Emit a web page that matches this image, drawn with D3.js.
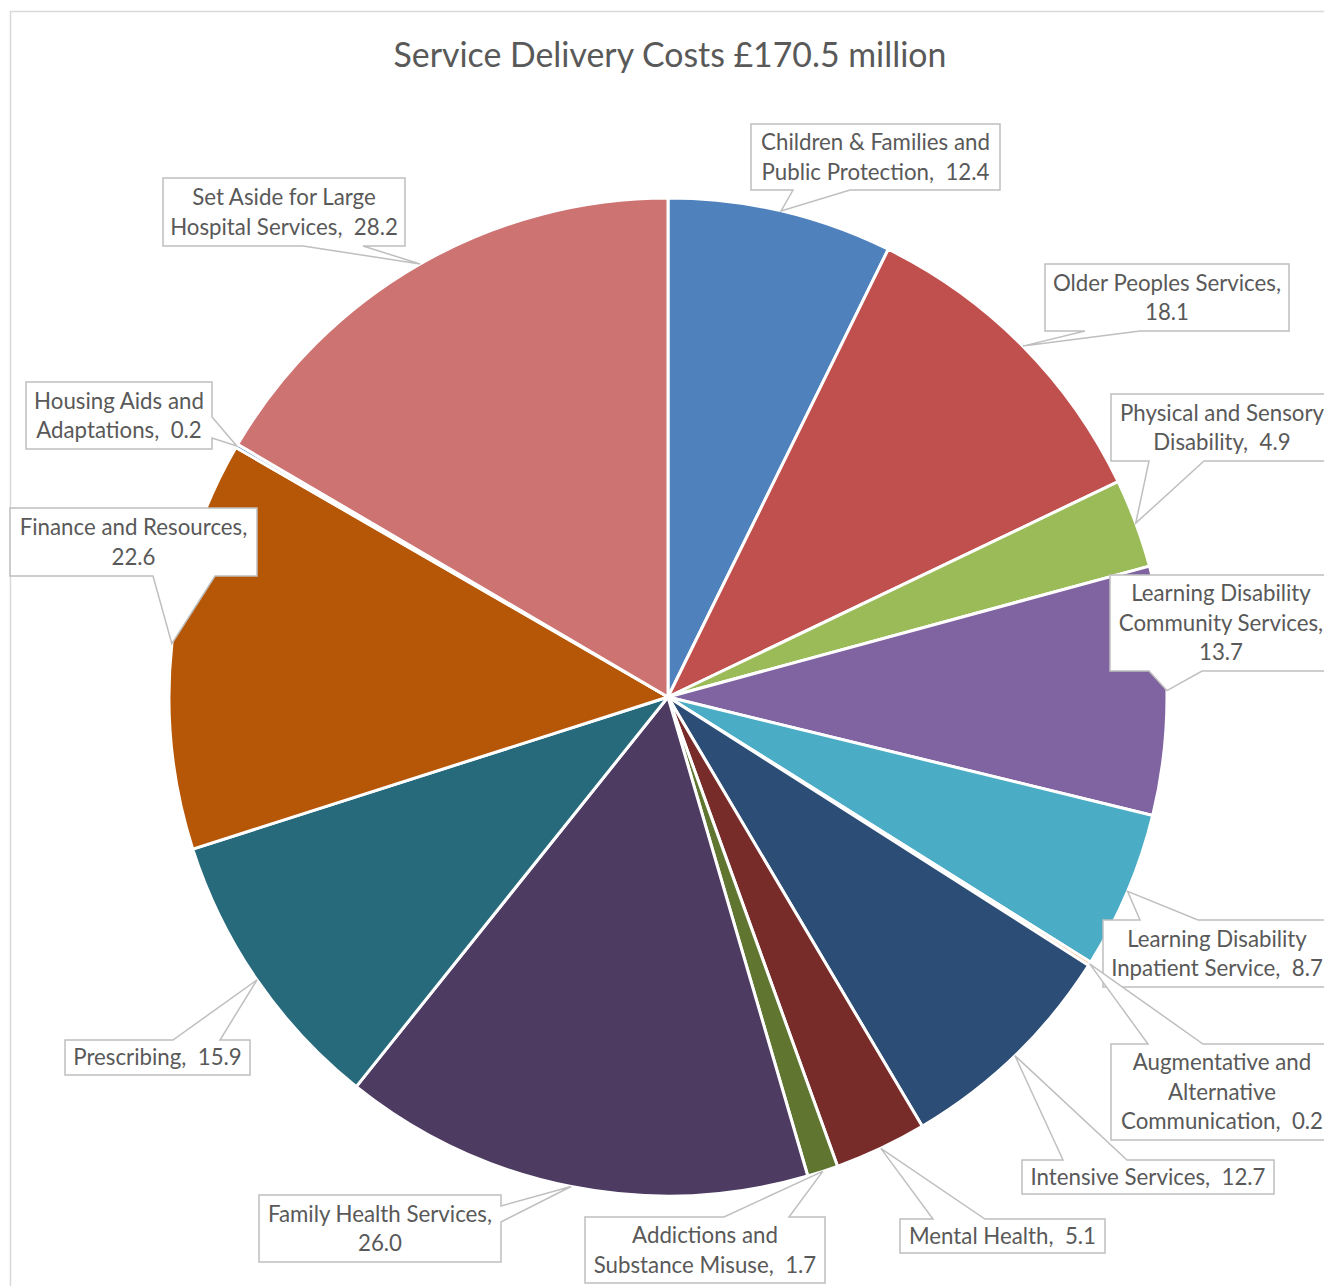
<!DOCTYPE html>
<html>
<head>
<meta charset="utf-8">
<script src="https://cdn.jsdelivr.net/npm/d3@7"></script>
<style>
  html, body { margin: 0; padding: 0; background: #fff; }
  svg { display: block; }
</style>
</head>
<body>
<svg id="chart" width="1324" height="1286"></svg>
<script>
// ---------- data ----------
const categories = [
  "Children & Families and Public Protection",
  "Older Peoples Services",
  "Physical and Sensory Disability",
  "Learning Disability Community Services",
  "Learning Disability Inpatient Service",
  "Augmentative and Alternative Communication",
  "Intensive Services",
  "Mental Health",
  "Addictions and Substance Misuse",
  "Family Health Services",
  "Prescribing",
  "Finance and Resources",
  "Housing Aids and Adaptations",
  "Set Aside for Large Hospital Services"
];
const values = [12.4, 18.1, 4.9, 13.7, 8.7, 0.2, 12.7, 5.1, 1.7, 26.0, 15.9, 22.6, 0.2, 28.2];
const labelLines = [
  ["Children & Families and", "Public Protection,  12.4"],
  ["Older Peoples Services,", "18.1"],
  ["Physical and Sensory", "Disability,  4.9"],
  ["Learning Disability", "Community Services,", "13.7"],
  ["Learning Disability", "Inpatient Service,  8.7"],
  ["Augmentative and", "Alternative", "Communication,  0.2"],
  ["Intensive Services,  12.7"],
  ["Mental Health,  5.1"],
  ["Addictions and", "Substance Misuse,  1.7"],
  ["Family Health Services,", "26.0"],
  ["Prescribing,  15.9"],
  ["Finance and Resources,", "22.6"],
  ["Housing Aids and", "Adaptations,  0.2"],
  ["Set Aside for Large", "Hospital Services,  28.2"]
];
const titleText = "Service Delivery Costs £170.5 million";

// ---------- styles / layout ----------
const colors = ["#4F81BD", "#C0504D", "#9BBB59", "#8064A2", "#4BACC6", "#F79646",
                "#2C4D75", "#772C2A", "#5F7530", "#4D3B62", "#276A7C", "#B65708",
                "#729ACA", "#CD7371"];
// callout boxes: [x, y, w, h], wedge side, wedge base along that side
const callouts = [
  {box: [751, 124, 249, 66],  side: "b", base: [793, 850]},
  {box: [1045, 264, 244, 67], side: "b", base: [1085, 1140]},
  {box: [1111, 394, 222, 67], side: "b", base: [1149, 1204]},
  {box: [1110, 575, 222, 96], side: "b", base: [1149, 1202]},
  {box: [1103, 920, 228, 67], side: "t", base: [1140, 1198]},
  {box: [1111, 1044, 222, 96], side: "t", base: [1148, 1203]},
  {box: [1022, 1160, 252, 34], side: "t", base: [1063, 1127]},
  {box: [900, 1219, 205, 34], side: "t", base: [933, 985]},
  {box: [585, 1217, 240, 66], side: "t", base: [724, 789]},
  {box: [259, 1195, 242, 67], side: "r", base: [1206, 1222]},
  {box: [65, 1040, 185, 35], side: "t", base: [173, 220]},
  {box: [10, 508, 247, 68], side: "b", base: [153, 215]},
  {box: [26, 382, 186, 67], side: "r", base: [417, 438]},
  {box: [163, 178, 242, 68], side: "b", base: [303, 363]}
];
const cx = 668, cy = 697, R = 499;
const fontFamily = "Lato, 'Open Sans', sans-serif";
const textColor = "#595959";

const svg = d3.select("#chart");

// outer frame
svg.append("rect")
  .attr("x", 10.5).attr("y", 11.5)
  .attr("width", 1400).attr("height", 1400)
  .attr("fill", "#fff").attr("stroke", "#d9d9d9").attr("stroke-width", 1.5);

// title (fit to reference width)
const title = svg.append("text")
  .attr("x", 670).attr("y", 67)
  .attr("text-anchor", "middle")
  .attr("font-family", fontFamily)
  .attr("font-size", 32)
  .attr("fill", textColor)
  .text(titleText);
{
  const w = title.node().getComputedTextLength();
  title.attr("font-size", 32 * 553 / w);
}

// pie
const data = categories.map((c, i) => ({name: c, value: values[i], i}));
const pie = d3.pie().value(d => d.value).sort(null);
const arcs = pie(data);
const arc = d3.arc().innerRadius(0).outerRadius(R);

const g = svg.append("g").attr("transform", `translate(${cx},${cy})`);
g.selectAll("path.slice")
  .data(arcs)
  .join("path")
  .attr("class", "slice")
  .attr("d", arc)
  .attr("fill", d => colors[d.data.i])
  .attr("stroke", "#fff")
  .attr("stroke-width", 3)
  .attr("stroke-linejoin", "round");

// label font size: fit a reference line
const probe = svg.append("text")
  .attr("font-family", fontFamily).attr("font-size", 20)
  .text("Children & Families and");
const labelSize = 20 * 229 / probe.node().getComputedTextLength();
probe.remove();

// callouts
const lg = svg.append("g");
arcs.forEach((a, k) => {
  const c = callouts[k];
  const mid = (a.startAngle + a.endAngle) / 2;
  const tx = cx + R * Math.sin(mid);
  const ty = cy - R * Math.cos(mid);
  const [x, y, w, h] = c.box;
  const [b0, b1] = c.base;
  const pts = [[x, y]];
  if (c.side === "t") pts.push([b0, y], [tx, ty], [b1, y]);
  pts.push([x + w, y]);
  if (c.side === "r") pts.push([x + w, b0], [tx, ty], [x + w, b1]);
  pts.push([x + w, y + h]);
  if (c.side === "b") pts.push([b1, y + h], [tx, ty], [b0, y + h]);
  pts.push([x, y + h]);
  if (c.side === "l") pts.push([x, b1], [tx, ty], [x, b0]);
  lg.append("path")
    .attr("d", d3.line()(pts) + "Z")
    .attr("fill", "#fff")
    .attr("stroke", "#bfbfbf")
    .attr("stroke-width", 1.5)
    .attr("stroke-linejoin", "miter");
  const lines = labelLines[k];
  const lh = 29.5;
  const t = lg.append("text")
    .attr("font-family", fontFamily)
    .attr("font-size", labelSize)
    .attr("fill", textColor)
    .attr("text-anchor", "middle");
  lines.forEach((ln, j) => {
    t.append("tspan")
      .attr("x", x + w / 2)
      .attr("y", y + h / 2 + (j - (lines.length - 1) / 2) * lh)
      .attr("dy", "0.35em")
      .attr("xml:space", "preserve")
      .text(ln);
  });
  t.style("white-space", "pre");
});
</script>
</body>
</html>
